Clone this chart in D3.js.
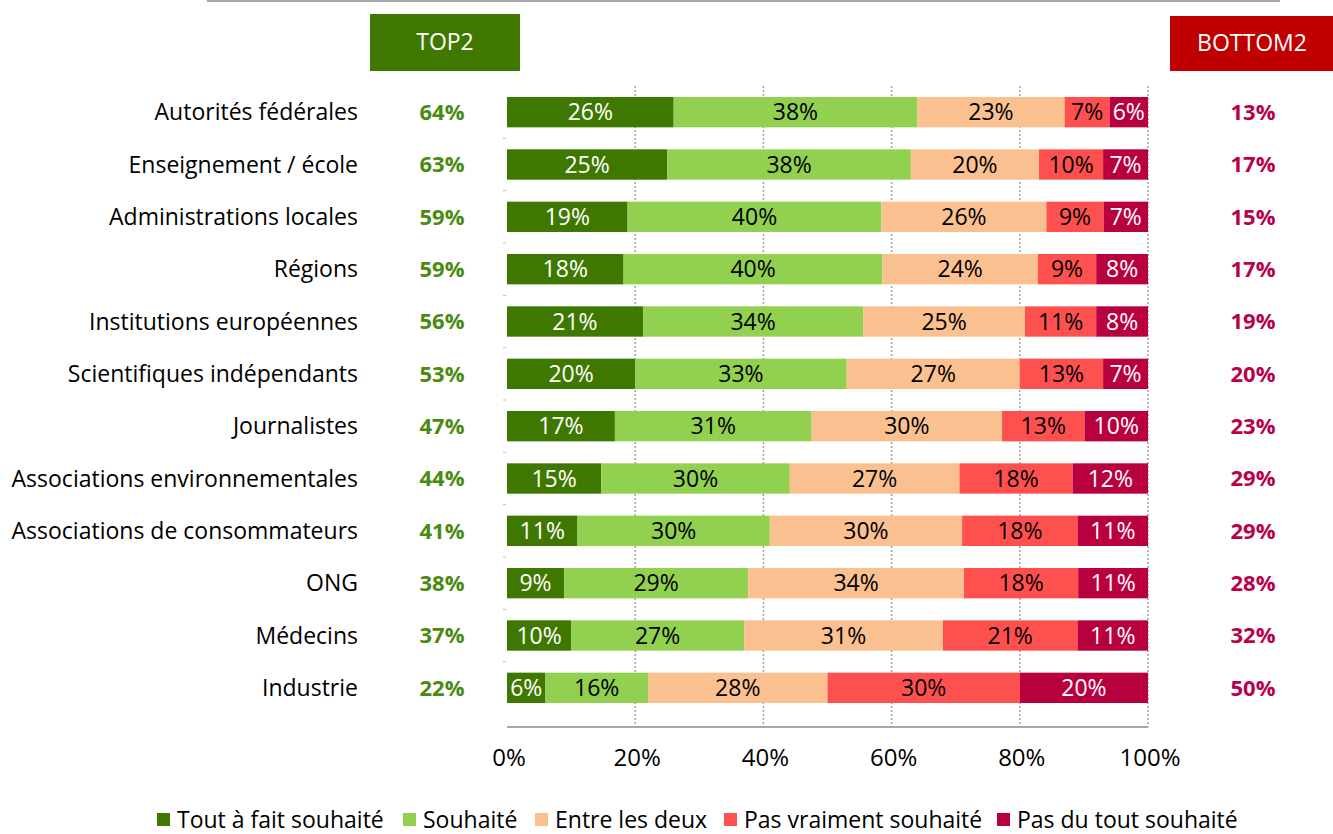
<!DOCTYPE html>
<html>
<head>
<meta charset="utf-8">
<script src="https://cdn.jsdelivr.net/npm/d3@7"></script>
<style>
  body { margin: 0; background: #fff; }
  svg { font-family: "Open Sans", sans-serif; }
</style>
</head>
<body>
<script>
// Data
var categories = ["Autorités fédérales", "Enseignement / école", "Administrations locales", "Régions",
    "Institutions européennes", "Scientifiques indépendants", "Journalistes", "Associations environnementales",
    "Associations de consommateurs", "ONG", "Médecins", "Industrie"];
var series = ["Tout à fait souhaité", "Souhaité", "Entre les deux", "Pas vraiment souhaité", "Pas du tout souhaité"];
var toutAFait   = [26, 25, 19, 18, 21, 20, 17, 15, 11,  9, 10,  6];
var souhaite    = [38, 38, 40, 40, 34, 33, 31, 30, 30, 29, 27, 16];
var entreDeux   = [23, 20, 26, 24, 25, 27, 30, 27, 30, 34, 31, 28];
var pasVraiment = [ 7, 10,  9,  9, 11, 13, 13, 18, 18, 18, 21, 30];
var pasDuTout   = [ 6,  7,  7,  8,  8,  7, 10, 12, 11, 11, 11, 20];
var top2    = [64, 63, 59, 59, 56, 53, 47, 44, 41, 38, 37, 22];
var bottom2 = [13, 17, 15, 17, 19, 20, 23, 29, 29, 28, 32, 50];
var xTicks = [0, 0.2, 0.4, 0.6, 0.8, 1];

var colors = ["#3f7800", "#92d050", "#fac090", "#ff5050", "#b9003f"];
var textColors = ["#fff", "#000", "#000", "#000", "#fff"];

var width = 1333, height = 834;

var svg = d3.select("body").append("svg")
    .attr("width", width)
    .attr("height", height);

// build table for the stack
var cols = [toutAFait, souhaite, entreDeux, pasVraiment, pasDuTout];
var table = categories.map(function(c, i) {
    var row = { cat: c };
    series.forEach(function(s, j) { row[s] = cols[j][i]; });
    return row;
});

// rows don't always sum to 100 (rounding), so expand to full width
var stack = d3.stack().keys(series).offset(d3.stackOffsetExpand);
var stacked = stack(table);

var x = d3.scaleLinear().domain([0, 1]).range([507, 1148]);
var y = d3.scaleBand().domain(categories).range([86, 714])
    .paddingInner(0.42).paddingOuter(0.21);

// top line
svg.append("line")
    .attr("x1", 207).attr("x2", 1280).attr("y1", 1).attr("y2", 1)
    .attr("stroke", "#a6a6a6").attr("stroke-width", 2);

// dotted gridlines
svg.append("g").selectAll("line")
    .data(xTicks.slice(1))
    .enter().append("line")
    .attr("x1", function(d) { return x(d); })
    .attr("x2", function(d) { return x(d); })
    .attr("y1", 86).attr("y2", 727)
    .attr("stroke", "#a0a0a0")
    .attr("stroke-width", 1.5)
    .attr("stroke-dasharray", "2,2");

// small category ticks on left
svg.append("g").selectAll("line")
    .data(categories.slice(1))
    .enter().append("line")
    .attr("x1", 503).attr("x2", 506)
    .attr("y1", function(d) { return y(d) - y.step() * 0.21; })
    .attr("y2", function(d) { return y(d) - y.step() * 0.21; })
    .attr("stroke", "#bbb");

// bars
var layers = svg.append("g").selectAll("g")
    .data(stacked)
    .enter().append("g")
    .attr("fill", function(d, i) { return colors[i]; });

layers.selectAll("rect")
    .data(function(d) { return d; })
    .enter().append("rect")
    .attr("x", function(d) { return x(d[0]); })
    .attr("width", function(d) { return x(d[1]) - x(d[0]); })
    .attr("y", function(d) { return y(d.data.cat); })
    .attr("height", y.bandwidth());

// segment labels
stacked.forEach(function(layer, j) {
    svg.append("g").selectAll("text")
        .data(layer)
        .enter().append("text")
        .attr("x", function(d) { return (x(d[0]) + x(d[1])) / 2; })
        .attr("y", function(d) { return y(d.data.cat) + y.bandwidth() / 2; })
        .attr("dy", "0.36em")
        .attr("text-anchor", "middle")
        .attr("font-size", 23)
        .attr("fill", textColors[j])
        .text(function(d) { return d.data[series[j]] + "%"; });
});

// axis line at bottom
svg.append("line")
    .attr("x1", 507).attr("x2", 1148).attr("y1", 727).attr("y2", 727)
    .attr("stroke", "#a6a6a6").attr("stroke-width", 2);

// x tick labels
svg.append("g").selectAll("text")
    .data(xTicks)
    .enter().append("text")
    .attr("x", function(d) { return x(d) + 2; })
    .attr("y", 757)
    .attr("dy", "0.36em")
    .attr("text-anchor", "middle")
    .attr("font-size", 24)
    .text(d3.format(".0%"));

// category labels
svg.append("g").selectAll("text")
    .data(categories)
    .enter().append("text")
    .attr("x", 358)
    .attr("y", function(d) { return y(d) + y.bandwidth() / 2; })
    .attr("dy", "0.36em")
    .attr("text-anchor", "end")
    .attr("font-size", 23)
    .attr("fill", "#000")
    .text(function(d) { return d; });

// TOP2 / BOTTOM2 headers
svg.append("rect").attr("x", 370).attr("y", 14).attr("width", 150).attr("height", 57).attr("fill", "#3f7800");
svg.append("text").attr("x", 445).attr("y", 42).attr("dy", "0.36em")
    .attr("text-anchor", "middle").attr("font-size", 23).attr("fill", "#fff").text("TOP2");
svg.append("rect").attr("x", 1170).attr("y", 16).attr("width", 170).attr("height", 55).attr("fill", "#c00000");
svg.append("text").attr("x", 1252).attr("y", 43).attr("dy", "0.36em")
    .attr("text-anchor", "middle").attr("font-size", 23).attr("fill", "#fff").text("BOTTOM2");

// TOP2 values
svg.append("g").selectAll("text")
    .data(top2)
    .enter().append("text")
    .attr("x", 442)
    .attr("y", function(d, i) { return y(categories[i]) + y.bandwidth() / 2; })
    .attr("dy", "0.36em")
    .attr("text-anchor", "middle")
    .attr("font-size", 22)
    .attr("font-weight", "bold")
    .attr("fill", "#4a8a10")
    .text(function(d) { return d + "%"; });

// BOTTOM2 values
svg.append("g").selectAll("text")
    .data(bottom2)
    .enter().append("text")
    .attr("x", 1253)
    .attr("y", function(d, i) { return y(categories[i]) + y.bandwidth() / 2; })
    .attr("dy", "0.36em")
    .attr("text-anchor", "middle")
    .attr("font-size", 22)
    .attr("font-weight", "bold")
    .attr("fill", "#b9004a")
    .text(function(d) { return d + "%"; });

// legend
var legendX = [157, 403, 535, 724, 997];
var legend = svg.append("g").selectAll("g")
    .data(series)
    .enter().append("g")
    .attr("transform", function(d, i) { return "translate(" + legendX[i] + ",813)"; });
legend.append("rect")
    .attr("width", 13).attr("height", 13)
    .attr("fill", function(d, i) { return colors[i]; });
legend.append("text")
    .attr("x", 20).attr("y", 7).attr("dy", "0.36em")
    .attr("font-size", 23)
    .text(function(d) { return d; });
</script>
</body>
</html>
